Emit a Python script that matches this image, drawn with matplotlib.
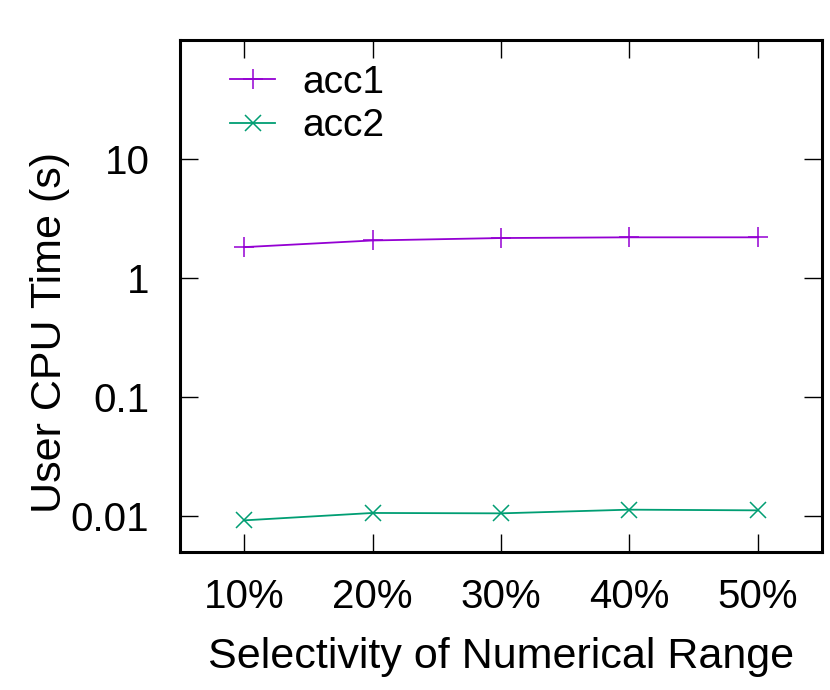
import matplotlib
matplotlib.use("Agg")
import matplotlib.pyplot as plt

plt.rcParams['font.family'] = ['Liberation Sans', 'DejaVu Sans']

# datos
selectivity = ['10%', '20%', '30%', '40%', '50%']
acc1 = [1.82, 2.07, 2.17, 2.20, 2.20]
acc2 = [0.00922, 0.01064, 0.01056, 0.01134, 0.01119]

x = list(range(1, len(selectivity) + 1))

fig = plt.figure(figsize=(8.3, 6.9), dpi=100)
ax = fig.add_axes([180 / 830, 1 - 552 / 690, 642 / 830, 512 / 690])

ax.plot(x, acc1, color='#9400D3', lw=1.3, marker='+', ms=15, mew=1.1, label='acc1')
ax.plot(x, acc2, color='#009E73', lw=1.3, marker='x', ms=12, mew=1.1, label='acc2')

ax.set_yscale('log')
ax.set_ylim(0.005, 100)
ax.set_xlim(0.5, 5.5)
ax.set_yticks([0.01, 0.1, 1, 10])
ax.set_yticklabels(['0.01', '0.1', '1', '10'])
ax.minorticks_off()
ax.set_xticks(x)
ax.set_xticklabels(selectivity)

ax.tick_params(direction='in', length=13, width=1, labelsize=29,
               top=True, right=True)
ax.tick_params(axis='y', pad=22)
ax.tick_params(axis='x', pad=19)
for s in ax.spines.values():
    s.set_linewidth(2.2)

ax.set_xlabel('Selectivity of Numerical Range', fontsize=31, labelpad=15)
ax.set_ylabel('User CPU Time (s)', fontsize=31)
ax.yaxis.set_label_coords(-0.172, 0.428)

ax.legend(loc='upper left', bbox_to_anchor=(0.078, 0.952), frameon=False,
          fontsize=28, handlelength=1.16, handletextpad=0.7, labelspacing=0.2,
          borderpad=0, borderaxespad=0)

plt.savefig('out.png')
plt.close()
